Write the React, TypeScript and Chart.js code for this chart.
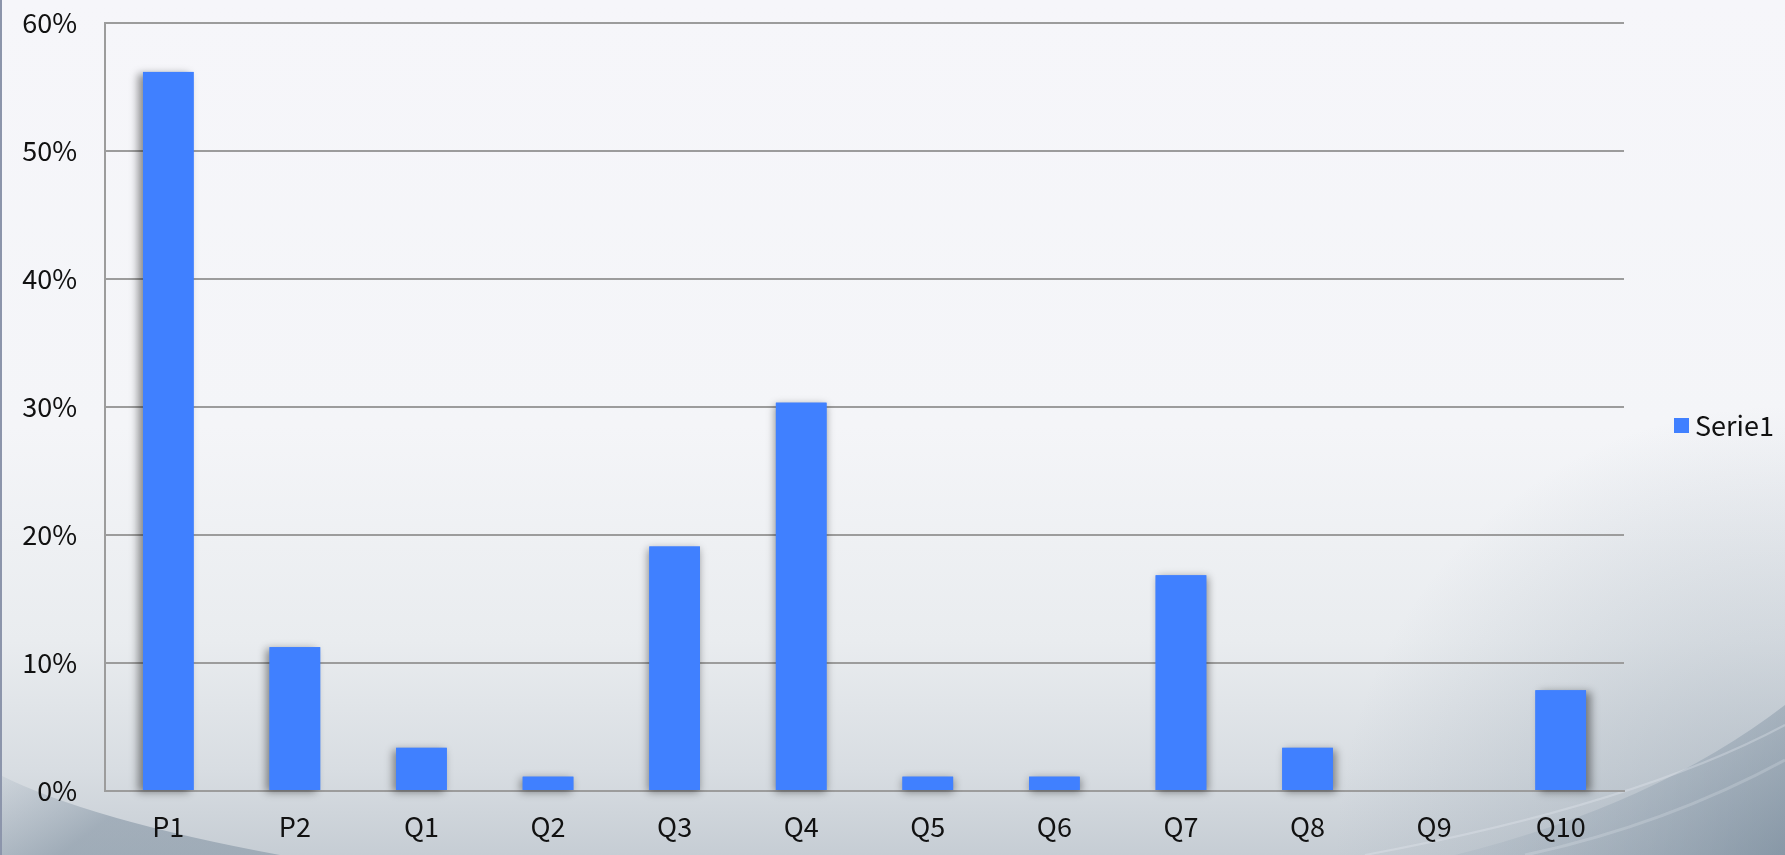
import React, { useEffect, useRef } from "react";
import { Chart, registerables } from "chart.js";

Chart.register(...registerables);

const categories = ["P1", "P2", "Q1", "Q2", "Q3", "Q4", "Q5", "Q6", "Q7", "Q8", "Q9", "Q10"];
const serie1 = [56.18, 11.24, 3.37, 1.12, 19.1, 30.34, 1.12, 1.12, 16.85, 3.37, 0, 7.87];
const seriesLabel = "Serie1";
const yTicks = [0, 10, 20, 30, 40, 50, 60];

const FONT = '"Noto Sans CJK JP", "Noto Sans", sans-serif';
const BAR_COLOR = "#4080ff";
const GRID_COLOR = "#9c9c9c";

const backgroundPlugin = {
  id: "bgPlugin",
  beforeDraw(chart: any) {
    const { ctx, width, height } = chart;
    ctx.save();
    const g = ctx.createLinearGradient(0, 0, 0, height);
    g.addColorStop(0, "#f6f6fa");
    g.addColorStop(0.5, "#f4f5f8");
    g.addColorStop(0.75, "#e9ecef");
    g.addColorStop(0.9, "#d8dde2");
    g.addColorStop(1, "#c6cdd4");
    ctx.fillStyle = g;
    ctx.fillRect(0, 0, width, height);

    // bottom-left swoosh
    ctx.beginPath();
    ctx.moveTo(0, height - 80);
    ctx.quadraticCurveTo(90, height - 35, 280, height);
    ctx.lineTo(0, height);
    ctx.closePath();
    const gl = ctx.createLinearGradient(0, height - 80, 60, height);
    gl.addColorStop(0, "rgba(150,165,180,0.15)");
    gl.addColorStop(1, "rgba(120,138,155,0.5)");
    ctx.fillStyle = gl;
    ctx.fill();

    // bottom-right soft area
    const rg = ctx.createRadialGradient(width, height, 0, width, height, 450);
    rg.addColorStop(0, "rgba(120,138,155,0.4)");
    rg.addColorStop(1, "rgba(120,138,155,0)");
    ctx.fillStyle = rg;
    ctx.fillRect(width - 450, height - 450, 450, 450);

    // bottom-right swoosh
    ctx.beginPath();
    ctx.moveTo(width, height - 150);
    ctx.quadraticCurveTo(width - 130, height - 50, width - 330, height);
    ctx.lineTo(width, height);
    ctx.closePath();
    const gr = ctx.createLinearGradient(width - 200, height - 150, width, height);
    gr.addColorStop(0, "rgba(150,165,180,0.2)");
    gr.addColorStop(1, "rgba(110,130,148,0.55)");
    ctx.fillStyle = gr;
    ctx.fill();

    // lighter streaks
    ctx.beginPath();
    ctx.moveTo(width, height - 130);
    ctx.quadraticCurveTo(width - 150, height - 50, width - 420, height);
    ctx.strokeStyle = "rgba(235,240,245,0.3)";
    ctx.lineWidth = 2;
    ctx.stroke();
    ctx.beginPath();
    ctx.moveTo(width, height - 95);
    ctx.quadraticCurveTo(width - 120, height - 30, width - 260, height);
    ctx.strokeStyle = "rgba(235,240,245,0.22)";
    ctx.lineWidth = 3;
    ctx.stroke();

    // left border
    ctx.fillStyle = "#8c95ab";
    ctx.fillRect(0, 0, 2, height);
    ctx.restore();
  },
};

// soft shadow under each bar, cast away from the centre of the plot
const shadowPlugin = {
  id: "barShadow",
  beforeDatasetsDraw(chart: any) {
    const ctx = chart.ctx;
    const area = chart.chartArea;
    const cx = (area.left + area.right) / 2;
    const half = (area.right - area.left) / 2;
    const meta = chart.getDatasetMeta(0);
    ctx.save();
    meta.data.forEach((el: any) => {
      const { x, y, base, width } = el.getProps(["x", "y", "base", "width"], true);
      if (Math.abs(base - y) < 0.5) return;
      ctx.shadowColor = "rgba(0,0,0,0.42)";
      ctx.shadowBlur = 8;
      ctx.shadowOffsetX = ((x - cx) / half) * 5;
      ctx.shadowOffsetY = 2;
      ctx.fillStyle = BAR_COLOR;
      ctx.fillRect(x - width / 2, Math.min(y, base), width, Math.abs(base - y));
    });
    ctx.restore();
  },
};

const legendPlugin = {
  id: "customLegend",
  afterDraw(chart: any) {
    const ctx = chart.ctx;
    const ds = chart.data.datasets[0];
    const area = chart.chartArea;
    const x = area.right + 50;
    const y = 425;
    ctx.save();
    ctx.fillStyle = ds.backgroundColor;
    ctx.fillRect(x, y - 7, 15, 15);
    ctx.fillStyle = "#111111";
    ctx.font = `27px ${FONT}`;
    ctx.textBaseline = "middle";
    ctx.textAlign = "left";
    ctx.fillText(ds.label, x + 21, y + 1);
    ctx.restore();
  },
};

export default function App() {
  const ref = useRef<HTMLCanvasElement | null>(null);
  useEffect(() => {
    if (!ref.current) return;
    const chart = new Chart(ref.current, {
      type: "bar",
      data: {
        labels: categories,
        datasets: [
          {
            label: seriesLabel,
            data: serie1,
            backgroundColor: BAR_COLOR,
            borderWidth: 0,
            barPercentage: 0.4,
            categoryPercentage: 1,
          },
        ],
      },
      options: {
        responsive: false,
        animation: false,
        layout: { padding: { left: 0, top: 23, right: 161, bottom: 0 } },
        plugins: {
          legend: { display: false },
          title: { display: false },
          tooltip: { enabled: false },
        },
        scales: {
          x: {
            grid: { display: false, drawTicks: false },
            border: { display: true, color: GRID_COLOR, width: 2 },
            ticks: {
              color: "#111111",
              font: { family: FONT, size: 27 },
              padding: 20,
              maxRotation: 0,
            },
            afterFit: (s: any) => {
              s.height = 64;
              s.paddingLeft = 0;
              s.paddingRight = 0;
              s.paddingTop = 0;
              s.paddingBottom = 0;
            },
          },
          y: {
            min: 0,
            max: 60,
            afterBuildTicks: (s: any) => {
              s.ticks = yTicks.map((v) => ({ value: v }));
            },
            grid: { color: GRID_COLOR, lineWidth: 2, drawTicks: false },
            border: { display: true, color: GRID_COLOR, width: 2 },
            ticks: {
              color: "#111111",
              font: { family: FONT, size: 27 },
              padding: 28,
              callback: (v: any) => `${v}%`,
            },
            afterFit: (s: any) => {
              s.width = 105;
              s.paddingTop = 0;
              s.paddingBottom = 0;
              s.paddingLeft = 0;
              s.paddingRight = 0;
            },
          },
        },
      },
      plugins: [backgroundPlugin, shadowPlugin, legendPlugin],
    });
    return () => chart.destroy();
  }, []);
  return (
    <div style={{ position: "fixed", left: 0, top: 0, width: 1785, height: 855 }}>
      <canvas ref={ref} width={1785} height={855} style={{ display: "block" }} />
    </div>
  );
}
